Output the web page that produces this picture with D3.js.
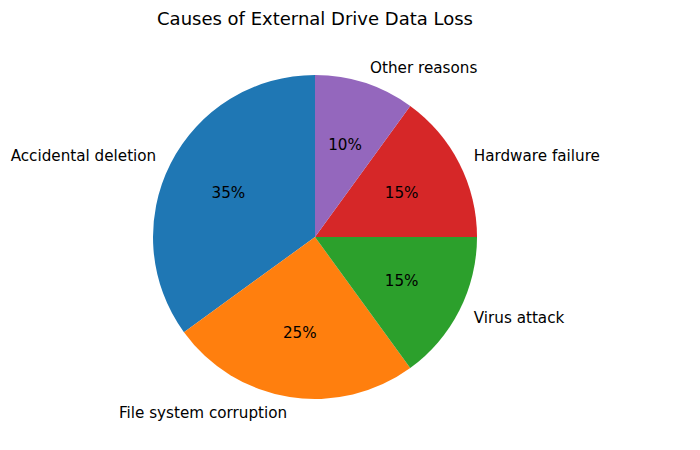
<!DOCTYPE html>
<html><head><meta charset="utf-8">
<script src="https://cdn.jsdelivr.net/npm/d3@7"></script>
<style>body{margin:0;background:#fff}svg{display:block}text{font-family:"DejaVu Sans",sans-serif;fill:#000}</style>
</head><body><svg id="c" width="700" height="450"></svg>
<script>
const categories = ["Accidental deletion","File system corruption","Virus attack","Hardware failure","Other reasons"];
const values = [35,25,15,15,10];
const colors = ["#1f77b4","#ff7f0e","#2ca02c","#d62728","#9467bd"];
const title = "Causes of External Drive Data Loss";

const svg = d3.select("#c");
const cx = 315, cy = 237, r = 162;
const g = svg.append("g").attr("transform",`translate(${cx},${cy})`);
const data = categories.map((c,i)=>({name:c,value:values[i],color:colors[i]}));
const pie = d3.pie().value(d=>d.value).sort(null).startAngle(0).endAngle(-2*Math.PI);
const arcs = pie(data);
const arc = d3.arc().innerRadius(0).outerRadius(r);
g.selectAll("path").data(arcs).join("path").attr("d",arc).attr("fill",d=>d.data.color);
const total = d3.sum(values);
arcs.forEach(a=>{
  const m = (a.startAngle+a.endAngle)/2;
  const sx = Math.sin(m), sy = -Math.cos(m);
  const lx = 1.1*r*sx, ly = 1.1*r*sy;
  g.append("text").attr("x",lx).attr("y",ly).attr("dy","0.35em")
    .attr("text-anchor", lx>0?"start":"end").attr("font-size","15.2px").text(a.data.name);
  g.append("text").attr("x",0.6*r*sx).attr("y",0.6*r*sy).attr("dy","0.35em")
    .attr("text-anchor","middle").attr("font-size","15.2px")
    .text(d3.format(".0f")(a.data.value/total*100)+"%");
});
svg.append("text").attr("x",cx).attr("y",25).attr("text-anchor","middle").attr("font-size","18px").text(title);
</script></body></html>
